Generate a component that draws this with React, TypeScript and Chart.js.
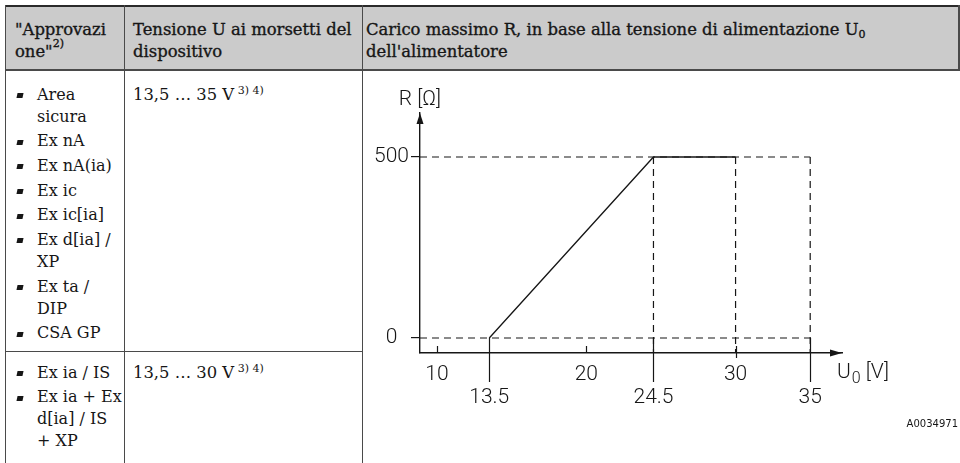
import React, { useEffect, useRef } from "react";
import { Chart, registerables } from "chart.js";

Chart.register(...registerables);

// ---- chart data ----
const loadVoltage = [13.5, 24.5, 30]; // U0 [V]
const loadResistance = [0, 500, 500]; // R [Ω]
const refVoltages = [24.5, 30, 35]; // dashed verticals
const refResistances = [0, 500]; // dashed horizontals
const refVoltageEnd = 35;
const xTicksUpper = [10, 20, 30];
const xTicksLower = [13.5, 24.5, 35];
const yTicks = [0, 500];
const xRange = [8.86, 37.13];
const yRange = [-41.4, 621.5];

// ---- table text ----
const row1Items = [["Area", "sicura"], ["Ex nA"], ["Ex nA(ia)"], ["Ex ic"], ["Ex ic[ia]"], ["Ex d[ia] /", "XP"], ["Ex ta /", "DIP"], ["CSA GP"]];
const row2Items = [["Ex ia / IS"], ["Ex ia + Ex", "d[ia] / IS", "+ XP"]];

const INK = "#161616";
const CHART_FONT = "Roboto";
const SERIF = '"DejaVu Serif", serif';

const annotPlugin = {
  id: "annot",
  afterDraw(chart: any) {
    const { ctx, chartArea, scales } = chart;
    const { left, right, top, bottom } = chartArea;
    const xs = scales.x;
    const ys = scales.y;
    ctx.save();
    ctx.strokeStyle = INK;
    ctx.fillStyle = INK;
    ctx.lineWidth = 1.2;
    ctx.setLineDash([]);
    xTicksUpper.forEach((v) => {
      const px = Math.round(xs.getPixelForValue(v)) + 0.5;
      const down = refVoltages.includes(v) ? 5 : 0;
      ctx.beginPath();
      ctx.moveTo(px, bottom - 7);
      ctx.lineTo(px, bottom + down);
      ctx.stroke();
    });
    const y0 = ys.getPixelForValue(0);
    xTicksLower.forEach((v) => {
      const px = Math.round(xs.getPixelForValue(v)) + 0.5;
      ctx.beginPath();
      ctx.moveTo(px, y0);
      ctx.lineTo(px, bottom + 29);
      ctx.stroke();
    });
    // arrows
    ctx.beginPath();
    ctx.moveTo(left, top);
    ctx.lineTo(left - 3.5, top + 11);
    ctx.lineTo(left + 3.5, top + 11);
    ctx.closePath();
    ctx.fill();
    ctx.beginPath();
    ctx.moveTo(right, bottom);
    ctx.lineTo(right - 12, bottom - 3.5);
    ctx.lineTo(right - 12, bottom + 3.5);
    ctx.closePath();
    ctx.fill();
    // axis titles
    ctx.textBaseline = "alphabetic";
    ctx.textAlign = "center";
    ctx.font = `300 21px ${CHART_FONT}`;
    ctx.fillText("R [Ω]", left, top - 8);
    ctx.textAlign = "left";
    let x = right - 5;
    const base = bottom + 25;
    ctx.fillText("U", x, base);
    x += ctx.measureText("U").width + 1;
    ctx.font = `300 16px ${CHART_FONT}`;
    ctx.fillText("0", x, base + 5);
    x += ctx.measureText("0").width;
    ctx.font = `300 21px ${CHART_FONT}`;
    ctx.fillText(" [V]", x, base);
    ctx.font = `10px "DejaVu Sans"`;
    ctx.textAlign = "right";
    ctx.fillText("A0034971", chart.width, bottom + 74);
    ctx.restore();
  },
};

function LoadChart() {
  const ref = useRef<HTMLCanvasElement>(null);
  useEffect(() => {
    const tickFont = { family: CHART_FONT, size: 21, weight: 300 as any };
    const dashed = {
      showLine: true,
      borderColor: INK,
      borderWidth: 1.2,
      borderDash: [7, 5],
      pointRadius: 0,
      fill: false,
    };
    const datasets: any[] = [];
    refResistances.forEach((r) =>
      datasets.push({ ...dashed, data: [{ x: xRange[0], y: r }, { x: refVoltageEnd, y: r }] })
    );
    refVoltages.forEach((u) =>
      datasets.push({ ...dashed, data: [{ x: u, y: refResistances[1] }, { x: u, y: yRange[0] }] })
    );
    datasets.push({
      showLine: true,
      borderColor: INK,
      borderWidth: 1.3,
      pointRadius: 0,
      fill: false,
      data: loadVoltage.map((u, i) => ({ x: u, y: loadResistance[i] })),
    });
    const chart = new Chart(ref.current!, {
      type: "scatter",
      data: { datasets },
      options: {
        animation: false,
        responsive: false,
        devicePixelRatio: 1,
        layout: { padding: { top: 42, right: 116, bottom: 36, left: 0 } },
        plugins: { legend: { display: false }, tooltip: { enabled: false } },
        scales: {
          x: {
            type: "linear",
            position: "bottom",
            weight: 0,
            min: xRange[0],
            max: xRange[1],
            afterBuildTicks: (s: any) => {
              s.ticks = xTicksUpper.map((v) => ({ value: v }));
            },
            afterFit: (s: any) => {
              s.height = 34;
            },
            grid: { display: false, drawTicks: false },
            border: { display: true, color: INK, width: 1.4 },
            ticks: {
              padding: 9.5,
              font: tickFont,
              color: INK,
              maxRotation: 0,
              autoSkip: false,
              callback: (v: any) => String(v),
            },
          },
          x2: {
            type: "linear",
            position: "bottom",
            weight: 1,
            min: xRange[0],
            max: xRange[1],
            afterBuildTicks: (s: any) => {
              s.ticks = xTicksLower.map((v) => ({ value: v }));
            },
            afterFit: (s: any) => {
              s.height = 40;
            },
            grid: { display: false, drawTicks: false },
            border: { display: false },
            ticks: {
              padding: -1.5,
              font: tickFont,
              color: INK,
              maxRotation: 0,
              autoSkip: false,
              callback: (v: any) => String(v),
            },
          },
          y: {
            type: "linear",
            position: "left",
            min: yRange[0],
            max: yRange[1],
            afterBuildTicks: (s: any) => {
              s.ticks = yTicks.map((v) => ({ value: v }));
            },
            afterFit: (s: any) => {
              s.width = 57;
            },
            grid: { display: true, drawOnChartArea: false, drawTicks: true, tickLength: 9, color: INK, lineWidth: 1.2 },
            border: { display: true, color: INK, width: 1.4 },
            ticks: {
              padding: 2,
              crossAlign: "center",
              font: tickFont,
              color: INK,
              callback: (v: any) => String(v),
            },
          },
        },
      } as any,
      plugins: [annotPlugin],
    });
    return () => chart.destroy();
  }, []);
  return <canvas ref={ref} width={595} height={392} style={{ display: "block", width: 595, height: 392 }} />;
}

const LINE = "#4a4a4a";

function BulletList({ items, top }: { items: string[][]; top: number }) {
  return (
    <div style={{ position: "absolute", left: 37, top, lineHeight: "22px", whiteSpace: "nowrap", fontSize: 16 }}>
      {items.map((lines, i) => (
        <div key={i} style={{ position: "relative", marginTop: i === 0 ? 0 : 2.7 }}>
          <span
            style={{
              position: "absolute",
              left: -20,
              top: 9.5,
              width: 6,
              height: 5,
              background: INK,
              transform: "skewX(-12deg)",
            }}
          />
          {lines.map((l, j) => (
            <div key={j}>{l}</div>
          ))}
        </div>
      ))}
    </div>
  );
}

const supStyle = (size: number, raise: number): React.CSSProperties => ({
  fontSize: size,
  position: "relative",
  top: -raise,
  lineHeight: 0,
  verticalAlign: "baseline",
});

export default function App() {
  const box = (l: number, t: number, w: number, h: number, bg: string): React.CSSProperties => ({
    position: "absolute",
    left: l,
    top: t,
    width: w,
    height: h,
    background: bg,
  });
  const headText: React.CSSProperties = {
    position: "absolute",
    top: 18.5,
    lineHeight: "22px",
    whiteSpace: "nowrap",
    WebkitTextStroke: "0.35px " + INK,
  };
  return (
    <div
      style={{
        position: "fixed",
        left: 0,
        top: 0,
        width: 960,
        height: 463,
        overflow: "hidden",
        background: "#fff",
        fontFamily: SERIF,
        fontSize: 16.4,
        color: INK,
      }}
    >
      {/* header background and borders */}
      <div style={box(5, 6, 954, 64, "#cbcbcb")} />
      <div style={box(5, 5, 954, 2, "#2a2a2a")} />
      <div style={box(5, 69, 954, 2, "#4a4a4a")} />
      <div style={box(958, 5, 1.5, 66, LINE)} />
      {/* vertical lines */}
      <div style={box(4.5, 5, 1.3, 460, LINE)} />
      <div style={box(123.5, 5, 1.3, 460, LINE)} />
      <div style={box(361.5, 5, 1.3, 460, LINE)} />
      {/* row divider */}
      <div style={box(5, 350.5, 357, 1.3, LINE)} />

      {/* header texts */}
      <div style={{ ...headText, left: 15 }}>
        <div>"Approvazi</div>
        <div>
          one"<span style={supStyle(11, 10)}>2)</span>
        </div>
      </div>
      <div style={{ ...headText, left: 133 }}>
        <div>Tensione U ai morsetti del</div>
        <div>dispositivo</div>
      </div>
      <div style={{ ...headText, left: 366 }}>
        <div>
          Carico massimo R, in base alla tensione di alimentazione U
          <span style={supStyle(11, -3)}>0</span>
        </div>
        <div>dell'alimentatore</div>
      </div>

      {/* row 1 */}
      <BulletList items={row1Items} top={83.5} />
      <div style={{ position: "absolute", left: 133, top: 83.5, lineHeight: "22px", whiteSpace: "nowrap" }}>
        13,5 … 35 V<span style={supStyle(11, 6)}> 3) 4)</span>
      </div>

      {/* row 2 */}
      <BulletList items={row2Items} top={361.5} />
      <div style={{ position: "absolute", left: 133, top: 361.5, lineHeight: "22px", whiteSpace: "nowrap" }}>
        13,5 … 30 V<span style={supStyle(11, 6)}> 3) 4)</span>
      </div>

      {/* chart cell */}
      <div style={{ position: "absolute", left: 363, top: 71 }}>
        <LoadChart />
      </div>
    </div>
  );
}
